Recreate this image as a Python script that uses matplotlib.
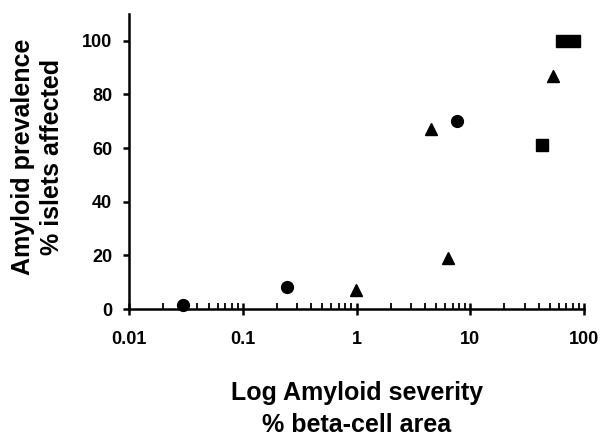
import matplotlib
matplotlib.use("Agg")
import matplotlib.pyplot as plt
from matplotlib.ticker import LogLocator, FixedLocator, NullFormatter

plt.rcParams['font.family'] = ['Liberation Sans', 'DejaVu Sans']
plt.rcParams['font.weight'] = 'bold'

circle_x = [0.03, 0.247, 7.6]
circle_y = [1.5, 8.3, 70]
triangle_x = [0.98, 4.5, 6.4, 53]
triangle_y = [7, 67, 19, 87]
square_x = [43, 64, 82]
square_y = [61, 100, 100]

x_ticks = [0.01, 0.1, 1, 10, 100]
x_ticklabels = ['0.01', '0.1', '1', '10', '100']
y_ticks = [0, 20, 40, 60, 80, 100]

fig = plt.figure(figsize=(6.04, 4.37), dpi=100)
ax = fig.add_axes([129/604, 1-309/437, (584-129)/604, (309-14)/437])

ms = 8.5
ax.plot(circle_x, circle_y, 'o', color='black', ms=ms, clip_on=False)
ax.plot(triangle_x, triangle_y, '^', color='black', ms=ms + 0.5, clip_on=False)
ax.plot(square_x, square_y, 's', color='black', ms=ms, clip_on=False)

ax.set_xscale('log')
ax.set_xlim(0.01, 100)
ax.set_ylim(0, 110)

ax.xaxis.set_major_locator(FixedLocator(x_ticks))
ax.set_xticklabels(x_ticklabels)
ax.xaxis.set_minor_locator(LogLocator(base=10, subs=range(2, 10)))
ax.xaxis.set_minor_formatter(NullFormatter())
ax.set_yticks(y_ticks)

for s in ['top', 'right']:
    ax.spines[s].set_visible(False)
for s in ['left', 'bottom']:
    ax.spines[s].set_linewidth(1.8)

ax.tick_params(axis='x', which='major', direction='inout', length=9, width=1.8,
               labelsize=13, pad=11)
ax.tick_params(axis='x', which='minor', direction='in', length=4, width=1.3)
ax.tick_params(axis='y', which='major', direction='out', length=4, width=1.8,
               labelsize=13, pad=8)
for lbl in ax.get_xticklabels() + ax.get_yticklabels():
    lbl.set_fontweight('bold')

fs = 18
fig.text(357/604, 1-393/437, 'Log Amyloid severity', ha='center', va='center',
         fontsize=fs, fontweight='bold')
fig.text(357/604, 1-425/437, '% beta-cell area', ha='center', va='center',
         fontsize=fs, fontweight='bold')
fig.text(23/604, 1-157/437, 'Amyloid prevalence', ha='center', va='center',
         rotation=90, fontsize=fs, fontweight='bold')
fig.text(52/604, 1-157/437, '% islets affected', ha='center', va='center',
         rotation=90, fontsize=fs, fontweight='bold')

fig.savefig('out.png', dpi=100)
